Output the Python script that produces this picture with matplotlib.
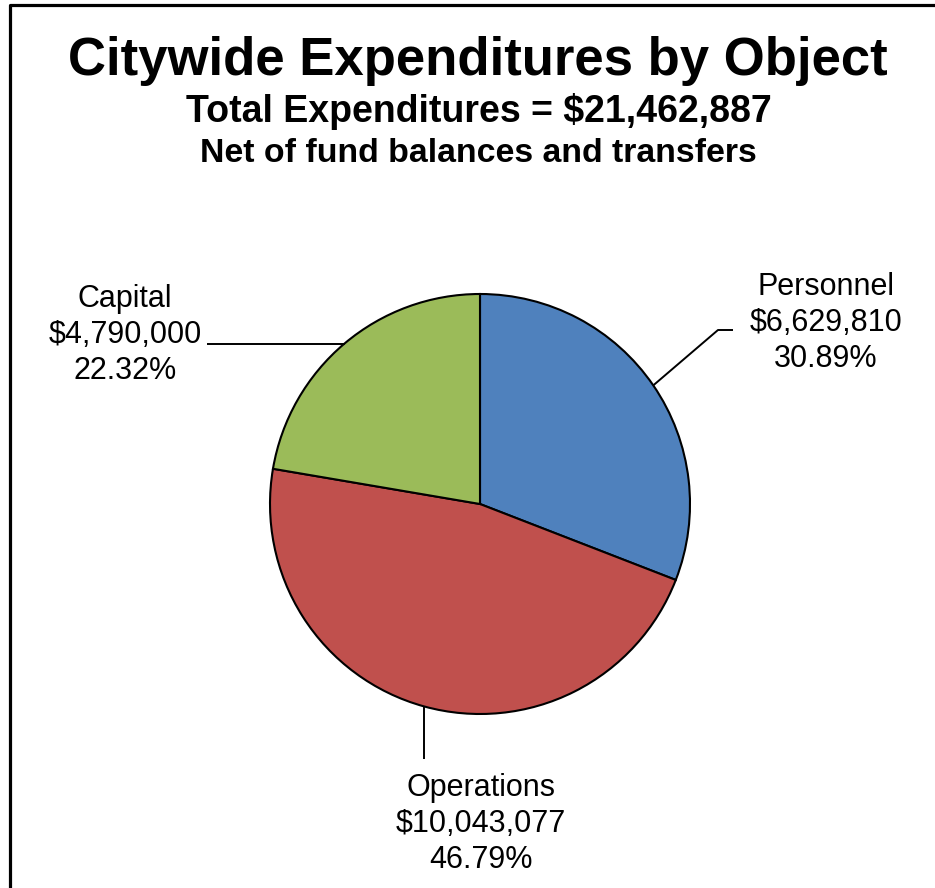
import math
import matplotlib
matplotlib.use("Agg")
import matplotlib.pyplot as plt
from matplotlib.lines import Line2D

# ---- data ----
categories = ["Personnel", "Operations", "Capital"]
values = [6629810, 10043077, 4790000]
percents = ["30.89%", "46.79%", "22.32%"]
colors = ["#4F81BD", "#C0504D", "#9BBB59"]
title = "Citywide Expenditures by Object"
subtitle1 = "Total Expenditures = $21,462,887"
subtitle2 = "Net of fund balances and transfers"

W, H = 935, 888
FONT = "Liberation Sans"

fig = plt.figure(figsize=(W / 100, H / 100), dpi=100)
ax = fig.add_axes([0, 0, 1, 1])

def Y(y):
    return H - y

cx, cy, r = 480, Y(504), 210
wedges, _ = ax.pie(values, colors=colors, startangle=90, counterclock=False,
                   center=(cx, cy), radius=r,
                   wedgeprops=dict(edgecolor="black", linewidth=1.5))
ax.set_xlim(0, W)
ax.set_ylim(0, H)
ax.set_aspect("equal")
ax.axis("off")

def edge_point(w):
    mid = math.radians((w.theta1 + w.theta2) / 2)
    return cx + r * math.cos(mid), cy + r * math.sin(mid)

lw = 1.4
# Personnel leader
px, py = edge_point(wedges[0])
ax.plot([px, 718, 733], [py, Y(330), Y(330)], color="black", lw=lw, solid_capstyle="butt")
# Operations leader
ox, oy = edge_point(wedges[1])
ax.plot([ox, ox], [oy, Y(759)], color="black", lw=lw, solid_capstyle="butt")
# Capital leader
kx, ky = edge_point(wedges[2])
ax.plot([kx, 207], [ky, ky], color="black", lw=lw, solid_capstyle="butt")

label_pos = {
    "Personnel": (826, [295, 331, 367]),
    "Operations": (481, [796, 832, 868]),
    "Capital": (125, [307, 343, 379]),
}
for cat, val, pct in zip(categories, values, percents):
    x, ys = label_pos[cat]
    lines = [cat, "${:,}".format(val), pct]
    for line, yy in zip(lines, ys):
        ax.text(x, Y(yy), line, ha="center", va="baseline", fontsize=22,
                family=FONT, color="#000000")

fig.text(478 / W, Y(75) / H, title, ha="center", va="baseline", fontsize=38,
         fontweight="bold", family=FONT)
fig.text(479 / W, Y(122) / H, subtitle1, ha="center", va="baseline", fontsize=27,
         fontweight="bold", family=FONT)
fig.text(478 / W, Y(162) / H, subtitle2, ha="center", va="baseline", fontsize=24.4,
         fontweight="bold", family=FONT)

# border (left and top)
fig.add_artist(Line2D([9.5 / W, 9.5 / W, 1.0], [0, Y(5.5) / H, Y(5.5) / H],
                      transform=fig.transFigure, color="black", lw=2.3))

fig.savefig("out.png", dpi=100)
